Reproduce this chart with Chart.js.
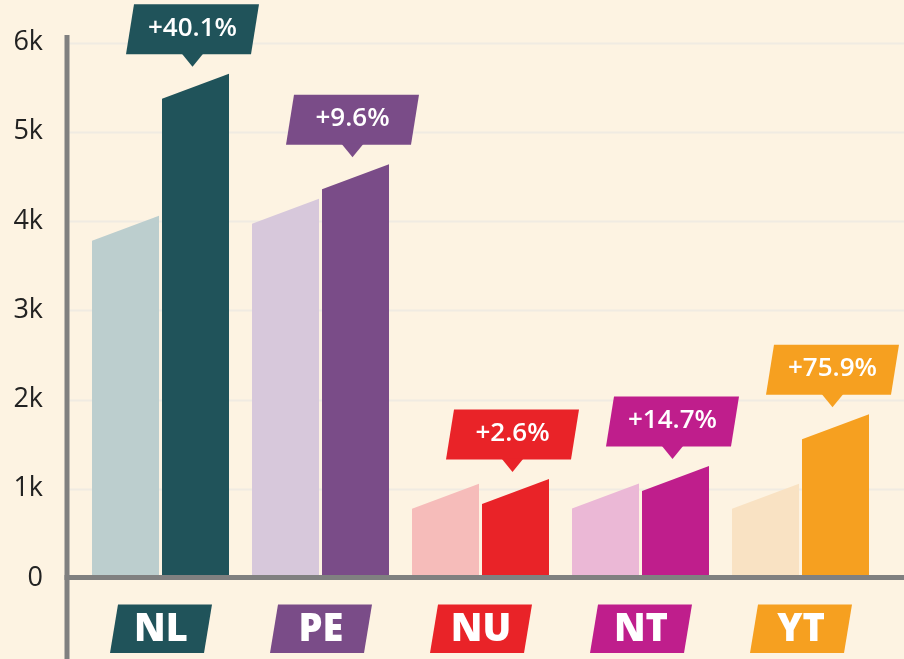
<!DOCTYPE html>
<html>
<head>
<meta charset="utf-8">
<script src="https://cdn.jsdelivr.net/npm/chart.js@4"></script>
<style>
  html, body { margin: 0; padding: 0; background: #FDF3E2; }
  #wrap { width: 904px; height: 659px; }
</style>
</head>
<body>
<div id="wrap"><canvas id="c" width="904" height="659"></canvas></div>
<script>
// ---- data ----
const categories = ['NL', 'PE', 'NU', 'NT', 'YT'];
const previousValues = [4060, 4250, 1055, 1060, 1055];
const currentValues = [5650, 4635, 1110, 1255, 1835];
const changeLabels = ['+40.1%', '+9.6%', '+2.6%', '+14.7%', '+75.9%'];
const tickValues = [0, 1000, 2000, 3000, 4000, 5000, 6000];
const tickLabels = ['0', '1k', '2k', '3k', '4k', '5k', '6k'];
const darkColors = ['#20535A', '#7A4C88', '#E92328', '#BF1E8C', '#F6A020'];
const lightColors = ['#BCCECE', '#D7C8DB', '#F6BCBA', '#EBB8D6', '#F9E2C3'];

const BG = '#FDF3E2';
const AXIS = '#808080';
const GRID = '#F0EBE2';
const SLANT = 25;

function para(ctx, cx, top, bottom, w, s) {
  ctx.beginPath();
  ctx.moveTo(cx - w / 2 + s / 2, top);
  ctx.lineTo(cx + w / 2 + s / 2, top);
  ctx.lineTo(cx + w / 2 - s / 2, bottom);
  ctx.lineTo(cx - w / 2 - s / 2, bottom);
  ctx.closePath();
}

const customPlugin = {
  id: 'custom',
  beforeDraw(chart) {
    const ctx = chart.ctx;
    ctx.save();
    ctx.fillStyle = BG;
    ctx.fillRect(0, 0, chart.width, chart.height);
    ctx.restore();
  },
  beforeDatasetsDraw(chart) {
    const ctx = chart.ctx;
    const y = chart.scales.y;
    const area = chart.chartArea;
    ctx.save();
    ctx.strokeStyle = GRID;
    ctx.lineWidth = 2;
    y.ticks.forEach(t => {
      if (t.value === 0) return;
      const py = Math.round(y.getPixelForValue(t.value)) + 0.5;
      ctx.beginPath();
      ctx.moveTo(area.left - 11, py);
      ctx.lineTo(chart.width, py);
      ctx.stroke();
    });
    ctx.restore();
  },
  beforeDatasetDraw(chart, args) {
    const ctx = chart.ctx;
    const meta = args.meta;
    const colors = args.index === 0 ? lightColors : darkColors;
    ctx.save();
    meta.data.forEach((bar, i) => {
      const p = bar.getProps(['x', 'y', 'base', 'width'], true);
      const l = p.x - p.width / 2, r = p.x + p.width / 2;
      ctx.fillStyle = colors[i];
      ctx.beginPath();
      ctx.moveTo(l, p.base);
      ctx.lineTo(l, p.y + SLANT);
      ctx.lineTo(r, p.y);
      ctx.lineTo(r, p.base);
      ctx.closePath();
      ctx.fill();
    });
    ctx.restore();
    return false;
  },
  afterDatasetsDraw(chart) {
    const ctx = chart.ctx;
    const area = chart.chartArea;
    const y = chart.scales.y;
    const x = chart.scales.x;
    const zero = y.getPixelForValue(0);
    const top6k = y.getPixelForValue(6000);
    ctx.save();
    // axis lines
    ctx.fillStyle = AXIS;
    ctx.fillRect(area.left - 16, top6k - 7.5, 5, chart.height);
    ctx.fillRect(area.left - 16, zero - 3, chart.width, 5);

    // change callouts
    const meta = chart.getDatasetMeta(1);
    meta.data.forEach((bar, i) => {
      const p = bar.getProps(['x', 'y'], true);
      const cx = p.x - 3;
      const apex = p.y - 7;
      const bottom = apex - 12.5;
      const top = bottom - 50;
      ctx.fillStyle = darkColors[i];
      para(ctx, cx, top, bottom, 125, 8);
      ctx.fill();
      ctx.beginPath();
      ctx.moveTo(cx - 11, bottom - 1);
      ctx.lineTo(cx + 11, bottom - 1);
      ctx.lineTo(cx, apex);
      ctx.closePath();
      ctx.fill();
      ctx.fillStyle = '#FFFFFF';
      ctx.font = '600 26px "Open Sans", sans-serif';
      ctx.textAlign = 'center';
      ctx.textBaseline = 'middle';
      ctx.fillText(changeLabels[i], cx, (top + bottom) / 2 - 1);
    });

    // category badges
    categories.forEach((c, i) => {
      const cx = x.getPixelForValue(i) + 0.5;
      const top = zero + 26.5;
      const bottom = top + 48.5;
      ctx.fillStyle = darkColors[i];
      para(ctx, cx, top, bottom, 94, 8);
      ctx.fill();
      ctx.fillStyle = '#FFFFFF';
      ctx.font = '800 38px "Open Sans", sans-serif';
      ctx.textAlign = 'center';
      ctx.textBaseline = 'middle';
      ctx.fillText(c, cx, (top + bottom) / 2 + 1);
    });
    ctx.restore();
  }
};

new Chart(document.getElementById('c'), {
  type: 'bar',
  data: {
    labels: categories,
    datasets: [
      { label: 'Previous', data: previousValues, backgroundColor: lightColors },
      { label: 'Current', data: currentValues, backgroundColor: darkColors }
    ]
  },
  options: {
    responsive: false,
    animation: false,
    devicePixelRatio: 1,
    categoryPercentage: 0.875,
    barPercentage: 67 / 70,
    layout: { padding: { top: 42.5, bottom: 81, left: 0, right: 23.5 } },
    plugins: {
      legend: { display: false },
      tooltip: { enabled: false }
    },
    scales: {
      x: { display: false },
      y: {
        min: 0,
        max: 6000,
        afterBuildTicks(scale) {
          scale.ticks = tickValues.map(v => ({ value: v }));
        },
        afterFit(scale) {
          scale.width = 80.5;
          scale.paddingTop = 0;
          scale.paddingBottom = 0;
        },
        grid: { display: false, drawTicks: false },
        border: { display: false },
        ticks: {
          padding: 37.5,
          color: '#222222',
          font: { family: '"Open Sans", sans-serif', size: 27 },
          callback: (v) => tickLabels[tickValues.indexOf(v)]
        }
      }
    }
  },
  plugins: [customPlugin]
});
</script>
</body>
</html>
